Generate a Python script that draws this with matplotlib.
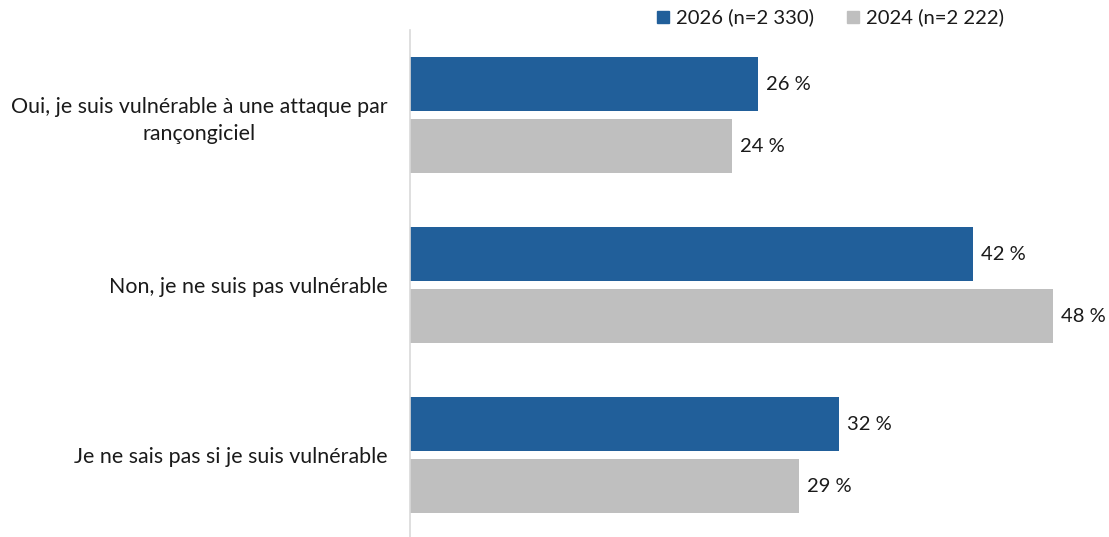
import matplotlib
matplotlib.use("Agg")
import matplotlib.pyplot as plt
from matplotlib.patches import Rectangle

categories = [
    "Oui, je suis vulnérable à une attaque par\nrançongiciel",
    "Non, je ne suis pas vulnérable",
    "Je ne sais pas si je suis vulnérable",
]
series_names = ["2026 (n=2 330)", "2024 (n=2 222)"]
values_2026 = [26, 42, 32]
values_2024 = [24, 48, 29]

BLUE = "#215F9A"
GRAY = "#BFBFBF"
FONT = ["Lato", "DejaVu Sans"]

plt.rcParams["font.family"] = FONT

W, H = 1109, 537
fig = plt.figure(figsize=(W / 100, H / 100), dpi=100)
left = 410 / W
ax = fig.add_axes([left, 0, 1 - left, (H - 30) / H])

px_per_unit = 13.4
ax.set_xlim(0, (W - 410) / px_per_unit)
ax.set_ylim(2.48, -0.5)

offset = 31 / 170
height = 54 / 170
pos = list(range(len(categories)))
b1 = ax.barh([p - offset for p in pos], values_2026, height=height, color=BLUE)
b2 = ax.barh([p + offset for p in pos], values_2024, height=height, color=GRAY)

for bars, vals in ((b1, values_2026), (b2, values_2024)):
    for bar, v in zip(bars, vals):
        ax.text(v + 0.6, bar.get_y() + bar.get_height() / 2, f"{v} %",
                va="center", ha="left", fontsize=14.5, color="#1a1a1a")

ax.set_yticks(pos)
ax.set_yticklabels(categories, fontsize=15.4, color="#1a1a1a", ha="right",
                   multialignment="center", linespacing=1.45)
ax.tick_params(axis="y", length=0, pad=16)
ax.set_xticks([])
for s in ("top", "right", "bottom"):
    ax.spines[s].set_visible(False)
ax.spines["left"].set_color("#D9D9D9")
ax.spines["left"].set_linewidth(1.2)

# legend
legend_items = [(657, BLUE, series_names[0]), (847, GRAY, series_names[1])]
for x0, col, name in legend_items:
    fig.patches.append(Rectangle((x0 / W, 1 - 23 / H), 12 / W, 12 / H,
                                 transform=fig.transFigure, color=col))
    fig.text((x0 + 19) / W, 1 - 17 / H, name, fontsize=14.6, va="center",
             ha="left", color="#1a1a1a")

fig.savefig("out.png", dpi=100)
